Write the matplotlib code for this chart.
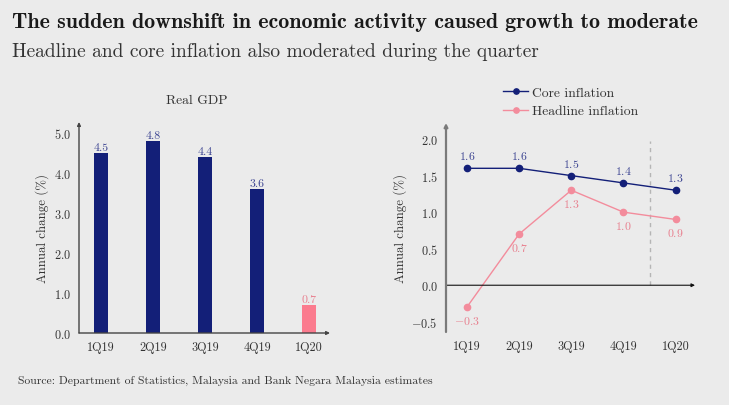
import matplotlib
matplotlib.use("Agg")
import matplotlib.pyplot as plt
from matplotlib.ticker import FuncFormatter

# Data
quarters = ["1Q19", "2Q19", "3Q19", "4Q19", "1Q20"]
gdp = [4.5, 4.8, 4.4, 3.6, 0.7]
core_inflation = [1.6, 1.6, 1.5, 1.4, 1.3]
headline_inflation = [-0.3, 0.7, 1.3, 1.0, 0.9]

# Style
BG = "#ebebeb"
NAVY = "#131f78"
NAVY_TXT = "#3d4592"
PINK_BAR = "#fb7b8e"
PINK_LINE = "#f38c9c"
PINK_TXT = "#e8808f"

plt.rcParams["font.family"] = "cmr10"
plt.rcParams["mathtext.fontset"] = "cm"
plt.rcParams["axes.formatter.use_mathtext"] = True
plt.rcParams["axes.unicode_minus"] = True

W, H = 729, 406
fig = plt.figure(figsize=(W / 100, H / 100), dpi=100, facecolor=BG)


def px_axes(x0, x1, ytop, ybot):
    return fig.add_axes([x0 / W, (H - ybot) / H, (x1 - x0) / W, (ybot - ytop) / H])


def fmt(v, pos=None):
    return r"$\mathdefault{%.1f}$" % v


def clean(ax):
    ax.set_facecolor(BG)
    for s in ax.spines.values():
        s.set_visible(False)
    ax.tick_params(length=0, labelsize=8.8, colors="#333333", pad=6)
    ax.yaxis.set_major_formatter(FuncFormatter(fmt))


# Titles
fig.text(12 / W, 1 - 22 / H, "The sudden downshift in economic activity caused growth to moderate",
         family="cmb10", fontsize=15.8, color="#1a1a1a", va="center")
fig.text(12 / W, 1 - 52 / H, "Headline and core inflation also moderated during the quarter",
         family="cmr10", fontsize=14.0, color="#333333", va="center")
fig.text(18 / W, 1 - 381 / H, "Source: Department of Statistics, Malaysia and Bank Negara Malaysia estimates",
         fontsize=8.4, color="#333333", va="center")

# Left: Real GDP bars
ax1 = px_axes(79, 330, 123, 334)
clean(ax1)
x = list(range(len(quarters)))
bar_colors = [NAVY] * (len(gdp) - 1) + [PINK_BAR]
txt_colors = [NAVY_TXT] * (len(gdp) - 1) + [PINK_TXT]
ax1.bar(x, gdp, width=0.26, color=bar_colors)
for xi, v, c in zip(x, gdp, txt_colors):
    ax1.annotate(f"{v:.1f}", (xi, v), xytext=(0, 0.5), textcoords="offset points",
                 ha="center", va="bottom", fontsize=8.5, color=c)
ax1.set_xlim(-0.42, 4.4)
ax1.set_ylim(0, 5.27)
ax1.set_yticks([0, 1, 2, 3, 4, 5])
ax1.set_xticks(x)
ax1.set_xticklabels(quarters)
ax1.set_ylabel("Annual change (%)", fontsize=9.3, color="#333333", labelpad=3)
fig.text(197 / W, 1 - 101 / H, "Real GDP", fontsize=9.8, color="#333333", ha="center", va="center")
ax1.annotate("", xy=(0, 1.0), xytext=(0, 0), xycoords="axes fraction",
             arrowprops=dict(arrowstyle="-|>", color="#444444", lw=1, mutation_scale=5,
                             shrinkA=0, shrinkB=0))
ax1.annotate("", xy=(1.0, 0), xytext=(0, 0), xycoords="axes fraction",
             arrowprops=dict(arrowstyle="-|>", color="#444444", lw=1, mutation_scale=5,
                             shrinkA=0, shrinkB=0))

# Right: inflation lines
ax2 = px_axes(446, 695, 124, 333)
clean(ax2)
ax2.set_xlim(-0.4, 4.37)
ax2.set_ylim(-0.64, 2.22)
ax2.set_yticks([-0.5, 0, 0.5, 1.0, 1.5, 2.0])
ax2.set_xticks(x)
ax2.set_xticklabels(quarters)
ax2.set_ylabel("Annual change (%)", fontsize=9.3, color="#333333", labelpad=3)
ax2.plot([3.5, 3.5], [0, 1.97], ls=(0, (3, 3)), color="#b5b5b5", lw=1)
ax2.annotate("", xy=(1.0, 0), xytext=(0, 0), xycoords=("axes fraction", "data"),
             arrowprops=dict(arrowstyle="-|>", color="#111111", lw=0.8, mutation_scale=5,
                             shrinkA=0, shrinkB=0))
ax2.annotate("", xy=(0, 1.0), xytext=(0, 0), xycoords="axes fraction",
             arrowprops=dict(arrowstyle="-|>", color="#7a7a7a", lw=1.6, mutation_scale=5,
                             shrinkA=0, shrinkB=0))
l1, = ax2.plot(x, core_inflation, color=NAVY, lw=1, marker="o", ms=4.5, label="Core inflation")
l2, = ax2.plot(x, headline_inflation, color=PINK_LINE, lw=1, marker="o", ms=4.5,
               label="Headline inflation")
for xi, v in zip(x, core_inflation):
    ax2.annotate(fmt(v), (xi, v), xytext=(0, 5), textcoords="offset points",
                 ha="center", va="bottom", fontsize=8.5, color=NAVY_TXT)
for xi, v in zip(x, headline_inflation):
    ax2.annotate(fmt(v), (xi, v), xytext=(0, -5), textcoords="offset points",
                 ha="center", va="top", fontsize=8.5, color=PINK_TXT)

fig.legend(handles=[l1, l2], loc="upper left", bbox_to_anchor=(491 / W, 1 - 75 / H),
           frameon=False, fontsize=9.8, handlelength=1.8, handletextpad=0.3,
           labelspacing=0.45, labelcolor="#333333", markerscale=0.85)

fig.savefig("out.png", dpi=100, facecolor=BG)
